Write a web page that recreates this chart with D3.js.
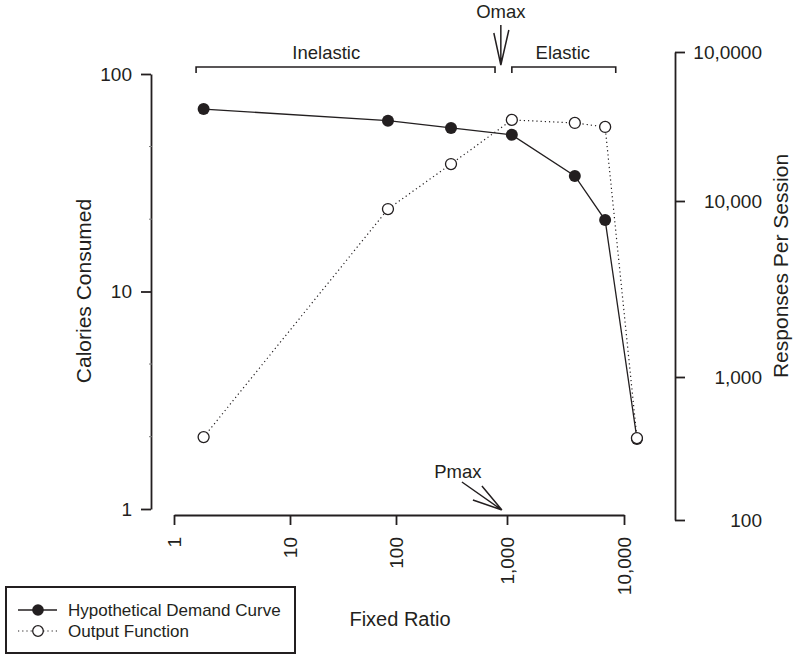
<!DOCTYPE html>
<html>
<head>
<meta charset="utf-8">
<script src="https://cdn.jsdelivr.net/npm/d3@7"></script>
<style>
  body { margin: 0; background: #fff; }
  svg { display: block; font-family: "Liberation Sans", Arial, sans-serif; }
  .axis path, .axis line { stroke: #231f20; stroke-width: 1.8; }
  .axis text { font-size: 19px; fill: #231f20; }
</style>
</head>
<body>
<div id="chart"></div>
<script>
// fixed ratios (x) shared by both series
const fixedRatio = [1.8, 84, 313, 1100, 3800, 6900, 12900];
// calories consumed (left axis) - hypothetical demand curve
const demand = [69, 61, 56.5, 52.5, 34, 21.3, 2.1];
// responses per session (right axis) - output function
const output = [380, 9000, 17700, 35000, 33400, 31400, 374];

const xTicks = [1, 10, 100, 1000, 10000];
const xTickLabels = ["1", "10", "100", "1,000", "10,000"];
const leftTicks = [1, 10, 100];
const leftTickLabels = ["1", "10", "100"];
const leftMinor = [2.15, 4.64, 21.5, 46.4];
const rightTicks = [100, 1000, 10000, 100000];
const rightTickLabels = ["100", "1,000", "10,000", "10,0000"];

// annotation positions in data units
const brackets = [
  { range: [1.55, 780], labelAt: 22, label: "Inelastic" },
  { range: [1100, 8500], labelAt: 3000, label: "Elastic" }
];
const omaxFR = 880;
const pmaxFR = 900;

const width = 800, height = 659;
const svg = d3.select("#chart").append("svg")
  .attr("width", width)
  .attr("height", height);

// the original's decades are not quite evenly spaced, so piecewise log scales
const x = d3.scaleLog().domain(xTicks).range([174, 290, 396, 507, 624]);
const yL = d3.scaleLog().domain([1, 100]).range([509, 74]);
const yR = d3.scaleLog().domain(rightTicks).range([520, 377, 201, 52]);

const ink = "#231f20";

// bottom axis
const xAxis = svg.append("g")
  .attr("class", "axis")
  .attr("transform", "translate(0,515)")
  .call(d3.axisBottom(x).tickValues(xTicks).tickSize(10).tickSizeOuter(0)
    .tickFormat((d, i) => xTickLabels[i]));
xAxis.selectAll("text")
  .attr("transform", "rotate(-90)")
  .attr("x", -22)
  .attr("y", 0)
  .attr("dy", "0.35em")
  .attr("text-anchor", "end");

// left axis
svg.append("g")
  .attr("class", "axis")
  .attr("transform", "translate(151,0)")
  .call(d3.axisLeft(yL).tickValues(leftTicks).tickSize(10).tickSizeOuter(0).tickPadding(9)
    .tickFormat((d, i) => leftTickLabels[i]));
svg.append("g")
  .selectAll("line")
  .data(leftMinor)
  .join("line")
  .attr("x1", 149).attr("x2", 152)
  .attr("y1", d => yL(d)).attr("y2", d => yL(d))
  .attr("stroke", "#777").attr("stroke-width", 1);

// right axis
const rAxis = svg.append("g")
  .attr("class", "axis")
  .attr("transform", "translate(675,0)")
  .call(d3.axisRight(yR).tickValues(rightTicks).tickSize(10).tickSizeOuter(0)
    .tickFormat((d, i) => rightTickLabels[i]));
rAxis.selectAll("text")
  .attr("text-anchor", "end")
  .attr("x", 87);

// axis titles
svg.append("text")
  .attr("transform", "translate(91,291) rotate(-90)")
  .attr("text-anchor", "middle")
  .attr("font-size", 21)
  .attr("fill", ink)
  .text("Calories Consumed");
svg.append("text")
  .attr("transform", "translate(788,266) rotate(-90)")
  .attr("text-anchor", "middle")
  .attr("font-size", 21)
  .attr("fill", ink)
  .text("Responses Per Session");
svg.append("text")
  .attr("x", 400).attr("y", 626)
  .attr("text-anchor", "middle")
  .attr("font-size", 20)
  .attr("fill", ink)
  .text("Fixed Ratio");

// output function (dotted, open circles)
const outPts = fixedRatio.map((f, i) => [x(f), yR(output[i])]);
const demPts = fixedRatio.map((f, i) => [x(f), yL(demand[i])]);

svg.append("path")
  .attr("d", d3.line()(outPts))
  .attr("fill", "none")
  .attr("stroke", ink)
  .attr("stroke-width", 1.2)
  .attr("stroke-dasharray", "1.2,3");

svg.append("path")
  .attr("d", d3.line()(demPts))
  .attr("fill", "none")
  .attr("stroke", ink)
  .attr("stroke-width", 1.3);

svg.append("g")
  .selectAll("circle")
  .data(demPts)
  .join("circle")
  .attr("cx", d => d[0]).attr("cy", d => d[1])
  .attr("r", 6)
  .attr("fill", ink);

svg.append("g")
  .selectAll("circle")
  .data(outPts)
  .join("circle")
  .attr("cx", d => d[0]).attr("cy", d => d[1])
  .attr("r", 5.5)
  .attr("fill", "#fff")
  .attr("stroke", ink)
  .attr("stroke-width", 1.3);

// inelastic / elastic brackets
const bracketY = 67;
brackets.forEach(b => {
  const x0 = x(b.range[0]), x1 = x(b.range[1]);
  svg.append("path")
    .attr("d", `M${x0},${bracketY + 6}V${bracketY}H${x1}V${bracketY + 6}`)
    .attr("fill", "none")
    .attr("stroke", ink)
    .attr("stroke-width", 1.6);
  svg.append("text")
    .attr("x", x(b.labelAt)).attr("y", bracketY - 8)
    .attr("text-anchor", "middle")
    .attr("font-size", 18.5)
    .attr("fill", ink)
    .text(b.label);
});

// Omax arrow
const ox = x(omaxFR);
svg.append("path")
  .attr("d", `M${ox},25V65M${ox - 7},33L${ox},65L${ox + 8},30`)
  .attr("fill", "none")
  .attr("stroke", ink)
  .attr("stroke-width", 1.5);
svg.append("text")
  .attr("x", ox).attr("y", 18)
  .attr("text-anchor", "middle")
  .attr("font-size", 18.5)
  .attr("fill", ink)
  .text("Omax");

// Pmax arrow
const px = x(pmaxFR), py = 510;
svg.append("path")
  .attr("d", `M${px - 40},${py - 28}L${px},${py}M${px - 20},${py - 24}L${px},${py}M${px - 29},${py - 10}L${px},${py}`)
  .attr("fill", "none")
  .attr("stroke", ink)
  .attr("stroke-width", 1.5);
svg.append("text")
  .attr("x", px - 44).attr("y", 478)
  .attr("text-anchor", "middle")
  .attr("font-size", 18.5)
  .attr("fill", ink)
  .text("Pmax");

// legend
const legend = svg.append("g").attr("transform", "translate(6,587)");
legend.append("rect")
  .attr("width", 289).attr("height", 66)
  .attr("fill", "#fff")
  .attr("stroke", ink)
  .attr("stroke-width", 2);
const legendItems = [
  { label: "Hypothetical Demand Curve", filled: true },
  { label: "Output Function", filled: false }
];
const li = legend.selectAll("g.item")
  .data(legendItems)
  .join("g")
  .attr("class", "item")
  .attr("transform", (d, i) => `translate(0,${23 + i * 21})`);
li.append("line")
  .attr("x1", 12).attr("x2", 51)
  .attr("stroke", ink)
  .attr("stroke-width", d => d.filled ? 1.3 : 1.2)
  .attr("stroke-dasharray", d => d.filled ? null : "1.2,3");
li.append("circle")
  .attr("cx", 32)
  .attr("r", d => d.filled ? 5.8 : 5.3)
  .attr("fill", d => d.filled ? ink : "#fff")
  .attr("stroke", ink)
  .attr("stroke-width", d => d.filled ? 0 : 1.3);
li.append("text")
  .attr("x", 62).attr("dy", "0.35em")
  .attr("font-size", 17)
  .attr("fill", ink)
  .text(d => d.label);
</script>
</body>
</html>
